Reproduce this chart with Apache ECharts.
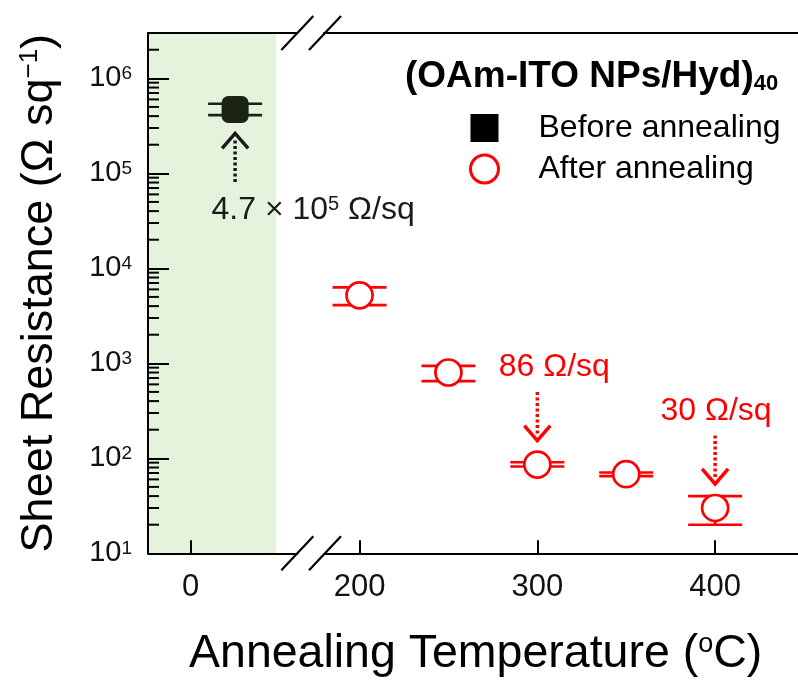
<!DOCTYPE html>
<html>
<head>
<meta charset="utf-8">
<script src="https://cdn.jsdelivr.net/npm/echarts@6/dist/echarts.min.js"></script>
<style>
  html, body { margin: 0; padding: 0; background: #fff; }
  #chart { width: 798px; height: 684px; }
</style>
</head>
<body>
<div id="chart"></div>
<script>
// ---- Sheet resistance of (OAm-ITO NPs/Hyd)40 films ----
// Before annealing (room temperature)
const beforeTemp = [25];
const beforeRs   = [4.7e5];
const beforeLow  = [4.1e5];
const beforeHigh = [5.4e5];

// After annealing at each temperature (°C)
const afterTemp = [200, 250, 300, 350, 400];
const afterRs   = [5200, 800, 86, 68, 30];
const afterLow  = [4100, 650, 82, 65, 20];
const afterHigh = [6300, 940, 91, 71, 40];

// Tick labels on the broken temperature axis
const xTicksLeft  = [0];
const xTicksRight = [200, 300, 400];

// Points that get a value call-out (indices into afterTemp)
const calloutAfter = [2, 4];

// ---- layout ----
const FONT = "'Liberation Sans', Arial, Helvetica, sans-serif";
const PX_PER_DEG = 160 / 90;
const GRID_TOP = 33;
const GRID_H = 520.3;
const LEFT_MIN = -24, LEFT_MAX = 60;
const RIGHT_MIN = 180, RIGHT_MAX = 450;
const G0_LEFT = 148;
const G0_W = (LEFT_MAX - LEFT_MIN) * PX_PER_DEG;
const G1_LEFT = 324;
const G1_W = (RIGHT_MAX - RIGHT_MIN) * PX_PER_DEG;
const Y_MIN = 10, Y_MAX = 3e6;
const SHADE_END = 48;
const DARK = '#1b2412';
const RED = '#ff0000';

// minor ticks of the log axis: 2..9 within each decade
const yMinorTicks = [];
for (let d = 1; d <= 6; d++) {
  for (let k = 2; k <= 9; k++) {
    const v = k * Math.pow(10, d);
    if (v < Y_MAX) yMinorTicks.push(v);
  }
}

function powLabel(v) {
  const e = Math.round(Math.log10(v));
  if (Math.abs(Math.pow(10, e) - v) > 1e-6 * v) return '';
  return '{b|10}{s|' + e + '}';
}

function errorBar(color) {
  return function (params, api) {
    const x = api.value(0);
    const lo = api.coord([x, api.value(1)]);
    const hi = api.coord([x, api.value(2)]);
    const hw = 27;
    const st = { stroke: color, lineWidth: 2.6 };
    return {
      type: 'group',
      children: [
        { type: 'line', shape: { x1: lo[0], y1: lo[1], x2: hi[0], y2: hi[1] }, style: st },
        { type: 'line', shape: { x1: lo[0] - hw, y1: lo[1], x2: lo[0] + hw, y2: lo[1] }, style: st },
        { type: 'line', shape: { x1: hi[0] - hw, y1: hi[1], x2: hi[0] + hw, y2: hi[1] }, style: st }
      ]
    };
  };
}

// dotted arrow pointing at a point; dir = 1 -> note below (arrow up), -1 -> note above (arrow down)
function callout(dir, color, textDx, textDy, textOf, rich) {
  return function (params, api) {
    const p = api.coord([api.value(0), api.value(1)]);
    const apexY = p[1] + dir * 24;
    const tailY = p[1] + dir * 74;
    return {
      type: 'group',
      children: [
        { type: 'line', shape: { x1: p[0], y1: apexY + dir * 7, x2: p[0], y2: tailY },
          style: { stroke: color, lineWidth: 3.5, lineDash: [3, 2.5] } },
        { type: 'polyline', shape: { points: [[p[0] - 13, apexY + dir * 15], [p[0], apexY], [p[0] + 13, apexY + dir * 15]] },
          style: { stroke: color, lineWidth: 3.5, fill: null } },
        { type: 'text', x: p[0] + textDx(params.dataIndex), y: p[1] + dir * textDy,
          style: { text: textOf(params.dataIndex), align: 'center', verticalAlign: 'middle',
                   fill: color, font: '32px ' + FONT, rich: rich } }
      ]
    };
  };
}

const chart = echarts.init(document.getElementById('chart'), null, { renderer: 'canvas' });

const axisLineStyle = { color: '#000', width: 2 };

const option = {
  animation: false,
  backgroundColor: '#fff',
  title: [
    {
      text: '{m|(OAm-ITO NPs/Hyd)}{s|40}',
      left: 405, top: 58, padding: 0,
      textStyle: {
        rich: {
          m: { fontFamily: FONT, fontWeight: 'bold', fontSize: 37, color: '#000' },
          s: { fontFamily: FONT, fontWeight: 'bold', fontSize: 22, color: '#000', verticalAlign: 'bottom', lineHeight: 12 }
        }
      }
    },
    {
      text: '{t|Annealing Temperature (}{s|o}{t|C)}',
      left: 189, top: 631, padding: 0,
      textStyle: {
        fontWeight: 'normal',
        rich: {
          t: { fontFamily: FONT, fontWeight: 'normal', fontSize: 46.5, color: '#000' },
          s: { fontFamily: FONT, fontWeight: 'normal', fontSize: 27, color: '#000', verticalAlign: 'top' }
        }
      }
    }
  ],
  legend: {
    orient: 'vertical', left: 469, top: 112, padding: 0,
    itemWidth: 28, itemHeight: 28, itemGap: 9,
    selectedMode: false,
    textStyle: { fontFamily: FONT, fontSize: 32, color: '#000', padding: [0, 0, 0, 35] },
    data: [
      { name: 'Before annealing', icon: 'rect', itemStyle: { color: '#000', borderWidth: 0 } },
      { name: 'After annealing', icon: 'circle', itemStyle: { color: '#fff', borderColor: RED, borderWidth: 3 } }
    ]
  },
  grid: [
    { left: G0_LEFT, top: GRID_TOP, width: G0_W, height: GRID_H, outerBoundsMode: 'none' },
    { left: G1_LEFT, top: GRID_TOP, width: G1_W, height: GRID_H, outerBoundsMode: 'none' }
  ],
  xAxis: [
    {
      type: 'value', gridIndex: 0, min: LEFT_MIN, max: LEFT_MAX, z: 2,
      axisLine: { onZero: false, lineStyle: axisLineStyle },
      axisTick: { inside: true, length: 13, lineStyle: { width: 2, color: '#000' }, customValues: xTicksLeft },
      axisLabel: { customValues: xTicksLeft, fontFamily: FONT, fontSize: 31, color: '#111', margin: 19 },
      splitLine: { show: false }
    },
    {
      type: 'value', gridIndex: 1, min: RIGHT_MIN, max: RIGHT_MAX, z: 2,
      axisLine: { onZero: false, lineStyle: axisLineStyle },
      axisTick: { inside: true, length: 13, lineStyle: { width: 2, color: '#000' }, customValues: xTicksRight },
      axisLabel: { customValues: xTicksRight, fontFamily: FONT, fontSize: 31, color: '#111', margin: 19 },
      splitLine: { show: false }
    },
    {
      type: 'value', gridIndex: 0, position: 'top', min: LEFT_MIN, max: LEFT_MAX, z: 2,
      axisLine: { onZero: false, lineStyle: axisLineStyle }, axisTick: { show: false },
      axisLabel: { show: false }, splitLine: { show: false }
    },
    {
      type: 'value', gridIndex: 1, position: 'top', min: RIGHT_MIN, max: RIGHT_MAX, z: 2,
      axisLine: { onZero: false, lineStyle: axisLineStyle }, axisTick: { show: false },
      axisLabel: { show: false }, splitLine: { show: false }
    }
  ],
  yAxis: [
    {
      type: 'log', logBase: 10, gridIndex: 0, min: Y_MIN, max: Y_MAX, z: 2,
      position: 'left',
      axisLine: { onZero: false, lineStyle: axisLineStyle },
      axisTick: { inside: true, length: 21, lineStyle: { width: 2, color: '#000' } },
      minorTick: { show: false },
      splitLine: { show: false },
      axisLabel: {
        formatter: powLabel, margin: 16,
        rich: {
          b: { fontFamily: FONT, fontSize: 29, color: '#111' },
          s: { fontFamily: FONT, fontSize: 19, color: '#111', verticalAlign: 'top' }
        }
      },
      name: '{t|Sheet Resistance (Ω sq}{s|−1}{t|)}',
      nameLocation: 'middle', nameRotate: 90, nameGap: 86,
      nameTextStyle: {
        rich: {
          t: { fontFamily: FONT, fontSize: 45, color: '#000' },
          s: { fontFamily: FONT, fontSize: 26, color: '#000', verticalAlign: 'top' }
        }
      }
    },
    {
      type: 'log', logBase: 10, gridIndex: 1, min: Y_MIN, max: Y_MAX, show: false,
      axisLine: { onZero: false },
      splitLine: { show: false }
    }
  ],
  series: [
    {
      name: 'errBefore', type: 'custom', xAxisIndex: 0, yAxisIndex: 0, z: 3,
      renderItem: errorBar(DARK), encode: { x: 0, y: [1, 2] },
      data: beforeTemp.map((t, i) => [t, beforeLow[i], beforeHigh[i]])
    },
    {
      name: 'Before annealing', type: 'scatter', xAxisIndex: 0, yAxisIndex: 0, z: 4,
      symbol: 'roundRect', symbolSize: 27,
      itemStyle: { color: DARK, opacity: 1 },
      data: beforeTemp.map((t, i) => [t, beforeRs[i]]),
      markArea: {
        silent: true, z: 1,
        itemStyle: { color: '#e6f3dc', opacity: 1 },
        data: [[{ xAxis: LEFT_MIN }, { xAxis: SHADE_END }]]
      }
    },
    {
      name: 'errAfter', type: 'custom', xAxisIndex: 1, yAxisIndex: 1, z: 3,
      renderItem: errorBar(RED), encode: { x: 0, y: [1, 2] },
      data: afterTemp.map((t, i) => [t, afterLow[i], afterHigh[i]])
    },
    {
      name: 'After annealing', type: 'scatter', xAxisIndex: 1, yAxisIndex: 1, z: 4,
      symbol: 'circle', symbolSize: 26,
      itemStyle: { color: '#fff', borderColor: RED, borderWidth: 2.7, opacity: 1 },
      data: afterTemp.map((t, i) => [t, afterRs[i]])
    },
    {
      name: 'minorTicks', type: 'custom', xAxisIndex: 0, yAxisIndex: 0, z: 5, silent: true, clip: false,
      encode: { x: 0, y: 1 },
      renderItem: function (params, api) {
        const p = api.coord([api.value(0), api.value(1)]);
        return { type: 'line', shape: { x1: p[0], y1: p[1], x2: p[0] + 11, y2: p[1] },
                 style: { stroke: '#000', lineWidth: 2 } };
      },
      data: yMinorTicks.map(v => [LEFT_MIN, v])
    },
    {
      name: 'noteBefore', type: 'custom', xAxisIndex: 0, yAxisIndex: 0, z: 5, silent: true, clip: false,
      encode: { x: 0, y: 1 },
      renderItem: callout(1, '#1a1a1a', () => 78, 101, (i) => {
        const v = beforeRs[i];
        const e = Math.floor(Math.log10(v));
        return '{n|' + (v / Math.pow(10, e)).toFixed(1) + ' × 10}{s|' + e + '}{n| Ω/sq}';
      }, {
        n: { fontFamily: FONT, fontSize: 32, color: '#1a1a1a' },
        s: { fontFamily: FONT, fontSize: 20, color: '#1a1a1a', verticalAlign: 'top' }
      }),
      data: beforeTemp.map((t, i) => [t, beforeRs[i]])
    },
    {
      name: 'noteAfter', type: 'custom', xAxisIndex: 1, yAxisIndex: 1, z: 5, silent: true, clip: false,
      encode: { x: 0, y: 1 },
      renderItem: callout(-1, RED, (i) => [17, 1][i], 97, (i) => afterRs[calloutAfter[i]] + ' Ω/sq', null),
      data: calloutAfter.map(i => [afterTemp[i], afterRs[i]])
    }
  ]
};

chart.setOption(option);

// axis-break marks (double slashes) on the top and bottom frame lines
const breakX = [G0_LEFT + G0_W, G1_LEFT + 1];
const frameY = [GRID_TOP, GRID_TOP + GRID_H];
const slashes = [];
frameY.forEach(y => breakX.forEach(x => {
  slashes.push({
    type: 'line', z: 10,
    shape: { x1: x - 16, y1: y + 17, x2: x + 16, y2: y - 17 },
    style: { stroke: '#000', lineWidth: 2.2 }
  });
}));
chart.setOption({ graphic: slashes });
</script>
</body>
</html>
